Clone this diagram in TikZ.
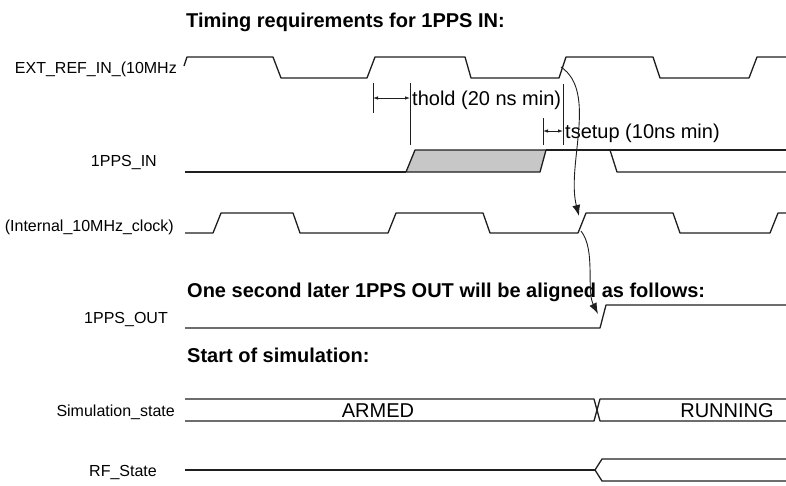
\documentclass[tikz,border=0pt]{standalone}
\usepackage{fontspec}
\setmainfont{Liberation Sans}
\usetikzlibrary{arrows.meta}
\begin{document}
\begin{tikzpicture}[x=1pt,y=-1pt,
  wave/.style={line width=1.3pt, draw=black!88, line join=round},
  biglbl/.style={anchor=base west, inner sep=0pt, font=\fontsize{20}{24}\selectfont},
  centerlbl/.style={anchor=base, inner sep=0pt, font=\fontsize{20}{24}\selectfont},
  head/.style={anchor=base west, inner sep=0pt, font=\fontsize{20}{24}\selectfont\bfseries},
  siglbl/.style={anchor=base east, inner sep=0pt, font=\fontsize{16}{19}\selectfont},
  dimline/.style={line width=0.8pt, draw=black!88},
  dimarrow/.style={line width=0.8pt, draw=black!88, {Latex[length=5pt,width=3.5pt]}-{Latex[length=5pt,width=3.5pt]}},
  causal/.style={line width=0.9pt, draw=black!88, -{Latex[length=11pt,width=8pt]}}
]
\useasboundingbox (0,0) rectangle (786,485);
\fill[white] (0,0) rectangle (786,485);

% headings
\node[head] (title) at (186,27) {Timing requirements for 1PPS IN:};
\node[head] (later) at (187,297) {One second later 1PPS OUT will be aligned as follows:};
\node[head] (start) at (187,362) {Start of simulation:};

% signal labels
\node[siglbl] (lext) at (177,73) {EXT\_REF\_IN\_(10MHz};
\node[siglbl] (lin) at (157,166) {1PPS\_IN};
\node[siglbl] (lint) at (174,231) {(Internal\_10MHz\_clock)};
\node[siglbl] (lout) at (168,323) {1PPS\_OUT};
\node[siglbl] (lsim) at (175,416) {Simulation\_state};
\node[siglbl] (lrf) at (157,476) {RF\_State};

% EXT_REF_IN
\draw[wave] (184,66) -- (187,57) -- (273,57) -- (281,78) -- (367,78) -- (375,57)
  -- (465,57) -- (471,78) -- (559,78) -- (566,57) -- (653,57) -- (660,78)
  -- (749,78) -- (757,57) -- (786,57);

% 1PPS_IN
\draw[wave] (185,172) -- (406,172);
\filldraw[wave, fill=black!22] (406,172) -- (415,150) -- (546,150) -- (540,172) -- cycle;
\draw[wave] (546,150) -- (786,150);
\draw[wave] (610,150) -- (617,172) -- (786,172);

% thold
\draw[dimline] (373,83) -- (373,113);
\draw[dimline] (410,83) -- (410,145);
\coordinate (tholdL) at (373,98);
\coordinate (tholdR) at (410,98);
\draw[dimarrow] (tholdL) -- (tholdR);
\node[biglbl] (thold) at (412,105) {thold (20 ns min)};

% tsetup
\draw[dimline] (543,118) -- (543,145);
\draw[dimline] (563,84) -- (563,145);
\coordinate (tsuL) at (543,131);
\coordinate (tsuR) at (563,131);
\draw[dimarrow] (tsuL) -- (tsuR);
\node[biglbl] (tsetup) at (565,138) {tsetup (10ns min)};

% Internal clock
\draw[wave] (185,233) -- (213,233) -- (221,213) -- (293,213) -- (300,233) -- (388,233)
  -- (396,213) -- (483,213) -- (490,233) -- (578,233) -- (586,213) -- (673,213)
  -- (680,233) -- (770,233) -- (778,213) -- (786,213);

% 1PPS_OUT
\draw[wave] (185,328) -- (600,328) -- (606,305) -- (786,305);

% causal arrows
\coordinate (extedge) at (561,67);
\coordinate (intedge) at (579,216);
\coordinate (intfoot) at (581,231);
\coordinate (outedge) at (598,314);
\draw[causal] (extedge) .. controls (598,92) and (566,165) .. (intedge);
\draw[causal] (intfoot) .. controls (596,250) and (586,290) .. (outedge);

% Simulation_state
\draw[wave] (185,399) -- (594,399) -- (600,421) -- (786,421);
\draw[wave] (185,421) -- (594,421) -- (600,399) -- (786,399);
\node[centerlbl] (armed) at (378,417) {ARMED};
\node[centerlbl] (running) at (727,417) {RUNNING};

% RF_State
\draw[wave] (185,470) -- (595,470);
\draw[wave] (786,459) -- (602,459) -- (595,470) -- (602,481) -- (786,481);
\end{tikzpicture}
\end{document}
